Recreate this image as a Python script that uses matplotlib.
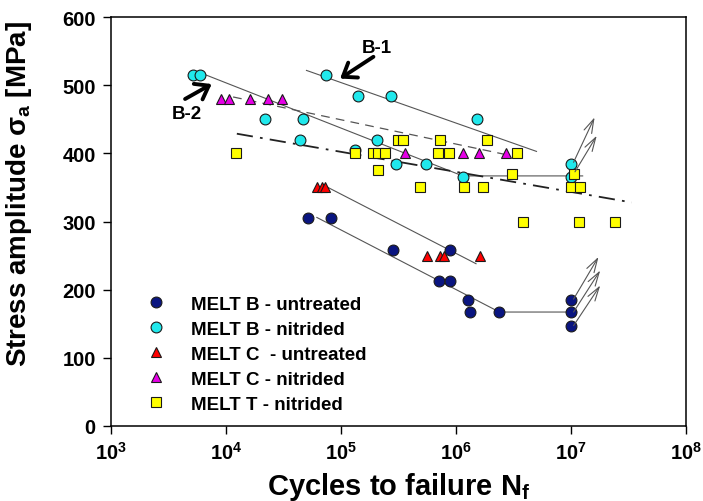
import math

import matplotlib
matplotlib.use("Agg")
import matplotlib.pyplot as plt
from matplotlib.ticker import FixedLocator, FuncFormatter, NullLocator

plt.rcParams["font.family"] = ["Liberation Sans", "DejaVu Sans"]
plt.rcParams["font.weight"] = "bold"
plt.rcParams["mathtext.fontset"] = "custom"
plt.rcParams["mathtext.rm"] = "Liberation Sans"
plt.rcParams["mathtext.bf"] = "Liberation Sans:bold"
plt.rcParams["mathtext.it"] = "Liberation Sans:italic"

# data (cycles, stress amplitude in MPa)
melt_b_untreated_n = [5.2e4, 8.1e4, 2.82e5, 8.9e5, 7.1e5, 8.9e5, 1.26e6, 1.31e6, 2.38e6, 1.0e7, 1.0e7, 1.0e7]
melt_b_untreated_s = [305, 305, 258, 258, 212, 212, 185, 167, 167, 185, 167, 146]

melt_b_nitrided_n = [5.2e3, 5.9e3, 7.4e4, 1.41e5, 2.7e5, 2.2e4, 4.7e4, 4.4e4, 2.07e5, 1.31e5,
                     2.98e5, 5.5e5, 1.51e6, 1.14e6, 1.0e7, 1.0e7]
melt_b_nitrided_s = [515, 515, 515, 485, 485, 450, 450, 420, 420, 405, 385, 385, 450, 365, 385, 365]

melt_c_untreated_n = [6.15e4, 6.8e4, 7.3e4, 5.56e5, 7.2e5, 7.8e5, 1.62e6]
melt_c_untreated_s = [350, 350, 350, 250, 250, 250, 250]

melt_c_nitrided_n = [9.1e3, 1.05e4, 1.62e4, 2.33e4, 3.05e4, 3.6e5, 1.14e6, 1.58e6, 2.72e6]
melt_c_nitrided_s = [480, 480, 480, 480, 480, 400, 400, 400, 400]

melt_t_nitrided_n = [1.21e4, 1.33e5, 1.91e5, 2.11e5, 2.41e5, 3.15e5, 3.48e5, 2.11e5, 4.9e5, 7.2e5,
                     6.9e5, 8.7e5, 1.87e6, 3.37e6, 3.09e6, 1.06e7, 1.16e6, 1.73e6, 1.0e7, 1.2e7,
                     3.85e6, 1.16e7, 2.41e7]
melt_t_nitrided_s = [400, 400, 400, 400, 400, 420, 420, 375, 350, 420,
                     400, 400, 420, 400, 370, 370, 350, 350, 350, 350,
                     300, 300, 300]

# trend lines
b1_line_n = [5.0e4, 5.0e6]
b1_line_s = [522, 403]
b2_line_n = [6.3e3, 1.14e6, 1.26e7]
b2_line_s = [517, 367, 367]
c_nitr_line_n = [1.15e4, 2.95e6]
c_nitr_line_s = [483, 397]
t_nitr_line_n = [1.24e4, 3.37e7]
t_nitr_line_s = [429, 328]
c_untr_line_n = [7.5e4, 1.49e6]
c_untr_line_s = [351, 238]
b_untr_line_n = [6.15e4, 2.38e6, 1.12e7]
b_untr_line_s = [306, 167, 167]

# run-out arrows (base -> tip)
runout_base_n = [1.05e7, 1.08e7, 1.05e7, 1.05e7, 1.05e7]
runout_base_s = [387, 373, 186, 167, 147]
runout_tip_n = [1.6e7, 1.67e7, 1.73e7, 1.79e7, 1.79e7]
runout_tip_s = [453, 426, 248, 228, 206]

x_ticks = [1e3, 1e4, 1e5, 1e6, 1e7, 1e8]
y_ticks = [0, 100, 200, 300, 400, 500, 600]

series = [
    ("MELT B - untreated", melt_b_untreated_n, melt_b_untreated_s, "o", "#0a1580"),
    ("MELT B - nitrided", melt_b_nitrided_n, melt_b_nitrided_s, "o", "#20e8ec"),
    ("MELT C  - untreated", melt_c_untreated_n, melt_c_untreated_s, "^", "#ff0000"),
    ("MELT C - nitrided", melt_c_nitrided_n, melt_c_nitrided_s, "^", "#e600e6"),
    ("MELT T - nitrided", melt_t_nitrided_n, melt_t_nitrided_s, "s", "#ffff00"),
]


def main():
    fig = plt.figure(figsize=(7.03, 5.02), dpi=100)
    ax = fig.add_axes([0.158, 0.150, 0.818, 0.8135])

    line_kw = dict(color="#555555", lw=0.8, zorder=2)
    ax.plot(b1_line_n, b1_line_s, **line_kw)
    ax.plot(b2_line_n, b2_line_s, **line_kw)
    ax.plot(c_untr_line_n, c_untr_line_s, **line_kw)
    ax.plot(b_untr_line_n, b_untr_line_s, **line_kw)
    ax.plot(c_nitr_line_n, c_nitr_line_s, color="#555555", lw=0.9,
            linestyle=(0, (7, 5)), zorder=2)
    ax.plot(t_nitr_line_n, t_nitr_line_s, color="#222222", lw=1.3,
            linestyle=(0, (9, 4, 1.5, 4)), zorder=2)

    for label, n, s, marker, color in series:
        ms = 7.8 if marker != "s" else 7.4
        ax.plot(n, s, linestyle="none", marker=marker, markersize=ms,
                markerfacecolor=color, markeredgecolor="#1a1a1a",
                markeredgewidth=0.8, label=label, zorder=3)

    for bn, bs, tn, ts in zip(runout_base_n, runout_base_s, runout_tip_n, runout_tip_s):
        ax.annotate("", xy=(tn, ts), xytext=(bn, bs),
                    arrowprops=dict(arrowstyle="->,head_length=1.0,head_width=0.3",
                                    color="#555555", lw=0.8, shrinkA=0, shrinkB=0),
                    zorder=4)

    arrow_kw = dict(arrowstyle="->,head_length=0.55,head_width=0.4",
                    color="black", lw=2.8, shrinkA=0, shrinkB=0, mutation_scale=16)
    ax.text(2.04e5, 555, "B-1", fontsize=13.5, fontweight="bold",
            ha="center", va="center")
    ax.annotate("", xy=(9.8e4, 510), xytext=(1.91e5, 542), arrowprops=arrow_kw)
    ax.text(4.55e3, 459, "B-2", fontsize=13.5, fontweight="bold",
            ha="center", va="center")
    ax.annotate("", xy=(7.5e3, 502), xytext=(4.4e3, 480), arrowprops=arrow_kw)

    ax.set_xscale("log")
    ax.set_xlim(1e3, 1e8)
    ax.set_ylim(0, 600)
    ax.xaxis.set_major_locator(FixedLocator(x_ticks))
    ax.xaxis.set_minor_locator(NullLocator())
    ax.xaxis.set_major_formatter(
        FuncFormatter(lambda v, pos: r"$\mathbf{10^{%d}}$" % round(math.log10(v))))
    ax.set_yticks(y_ticks)
    ax.tick_params(direction="out", length=6, width=1, labelsize=14.5, pad=5,
                   top=False, right=False)
    for sp in ax.spines.values():
        sp.set_linewidth(1.1)

    ax.set_xlabel(r"Cycles to failure N$_\mathbf{f}$", fontsize=21, fontweight="bold",
                  labelpad=5)
    ax.set_ylabel(r"Stress amplitude $\mathrm{\sigma}_\mathbf{a}$ [MPa]", fontsize=20,
                  fontweight="bold")
    ax.yaxis.set_label_coords(-0.134, 0.57)

    ax.legend(loc="upper left", bbox_to_anchor=(0.061, 0.318), frameon=False,
              fontsize=13.5, numpoints=1, handlelength=1.0, handletextpad=1.4,
              borderpad=0, borderaxespad=0, labelspacing=0.42)

    fig.savefig("out.png", dpi=100)
    plt.close(fig)


if __name__ == "__main__":
    main()
